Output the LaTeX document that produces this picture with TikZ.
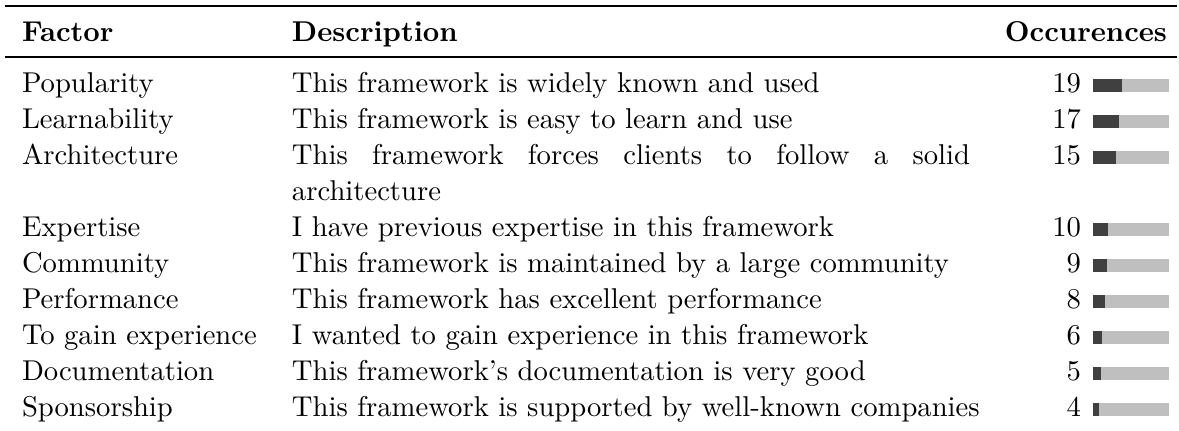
\documentclass[tikz,border=0pt]{standalone}
\begin{document}
\begin{tikzpicture}[x=0.33333pt,y=-0.33333pt,
  cell/.style={anchor=base west,inner sep=0pt,outer sep=0pt,font=\fontsize{9.55pt}{11.5pt}\selectfont},
  numcell/.style={anchor=base east,inner sep=0pt,outer sep=0pt,font=\fontsize{9.55pt}{11.5pt}\selectfont},
  head/.style={font=\fontsize{9.55pt}{11.5pt}\selectfont\bfseries},
  barbg/.style={fill=black!25},
  barfg/.style={fill=black!75}]
\useasboundingbox (0,0) rectangle (1179,430);
% rules
\coordinate (tl) at (5,6); \coordinate (tr) at (1177,6);
\coordinate (ml) at (5,57); \coordinate (mr) at (1177,57);
\draw[line width=0.8pt] (tl) -- (tr);
\draw[line width=0.5pt] (ml) -- (mr);
% header
\node[cell,head] (hf) at (22,41) {Factor};
\node[cell,head] (hd) at (292,41) {Description};
\node[numcell,head] (ho) at (1167,41) {Occurences};
% rows
\foreach \y/\f/\d/\n/\i in {
  92/Popularity/{This framework is widely known and used}/19/a,
  128/Learnability/{This framework is easy to learn and use}/17/b,
  236/Expertise/{I have previous expertise in this framework}/10/d,
  272/Community/{This framework is maintained by a large community}/9/e,
  308/Performance/{This framework has excellent performance}/8/f,
  344/{To gain experience}/{I wanted to gain experience in this framework}/6/g,
  380/Documentation/{This framework's documentation is very good}/5/h,
  416/Sponsorship/{This framework is supported by well-known companies}/4/i}{
  \node[cell] (f\i) at (22,\y) {\f};
  \node[cell] (d\i) at (292,\y) {\d};
  \node[numcell] (n\i) at (1081,\y) {\n};
  \fill[barbg] (1093,\y) rectangle (1169,{\y-13.5});
  \fill[barfg] (1093,\y) rectangle ({1093+76*\n/50},{\y-13.5});
}
% Architecture row (two lines)
\node[cell] (fc) at (22,164) {Architecture};
\node[cell] (dc) at (292,164) {\makebox[226pt][s]{This framework forces clients to follow a solid}};
\node[cell] (dc2) at (292,200) {architecture};
\node[numcell] (nc) at (1081,164) {15};
\fill[barbg] (1093,164) rectangle (1169,150.5);
\fill[barfg] (1093,164) rectangle ({1093+76*15/50},150.5);
\end{tikzpicture}
\end{document}
